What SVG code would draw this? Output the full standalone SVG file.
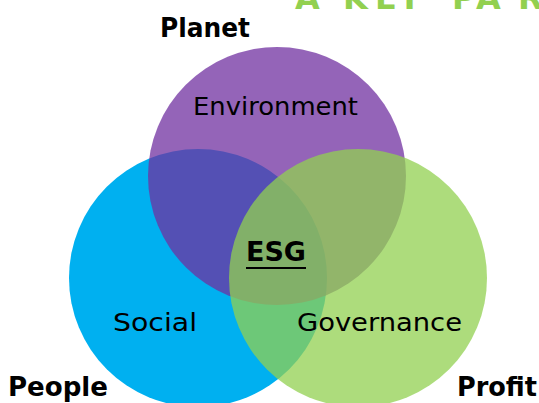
<svg xmlns="http://www.w3.org/2000/svg" width="539" height="403" viewBox="0 0 539 403">
<style>
.lbl{font-family:"DejaVu Sans","Liberation Sans",sans-serif;font-size:24px;fill:#000;text-anchor:start}
.bold{font-family:"DejaVu Sans","Liberation Sans",sans-serif;font-weight:bold;font-size:26px;fill:#000}
.title{font-family:"DejaVu Sans","Liberation Sans",sans-serif;font-weight:bold;font-size:32px;fill:#92D050}
</style>
<rect width="539" height="403" fill="#ffffff"/>
<text class="title" x="295 320 343 375 398 430 452 476 518" y="9">A KEY PAR</text>
<g id="social">
<circle cx="198" cy="278" r="129" fill="#00B0F0"/>
</g>
<g id="environment">
<circle cx="277" cy="176" r="129" fill="#7030A0" fill-opacity="0.75"/>
</g>
<g id="governance">
<circle cx="358" cy="278" r="129" fill="#92D050" fill-opacity="0.75"/>
</g>
<g id="connectors"></g>
<g id="labels">
<text class="lbl" x="193" y="115" textLength="165" lengthAdjust="spacingAndGlyphs">Environment</text>
<text class="lbl" x="113" y="331" textLength="84" lengthAdjust="spacingAndGlyphs">Social</text>
<text class="lbl" x="297" y="331" textLength="165" lengthAdjust="spacingAndGlyphs">Governance</text>
</g>
<g id="esg">
<text class="bold" x="246" y="261" font-size="25" textLength="60" lengthAdjust="spacingAndGlyphs">ESG</text>
<line x1="246" y1="268" x2="306" y2="268" stroke="#000" stroke-width="2"/>
</g>
<g id="planet"><text class="bold" x="160" y="37" textLength="90" lengthAdjust="spacingAndGlyphs">Planet</text></g>
<g id="people"><text class="bold" x="8" y="396" textLength="100" lengthAdjust="spacingAndGlyphs">People</text></g>
<g id="profit"><text class="bold" x="457" y="396" textLength="80" lengthAdjust="spacingAndGlyphs">Profit</text></g>
</svg>
